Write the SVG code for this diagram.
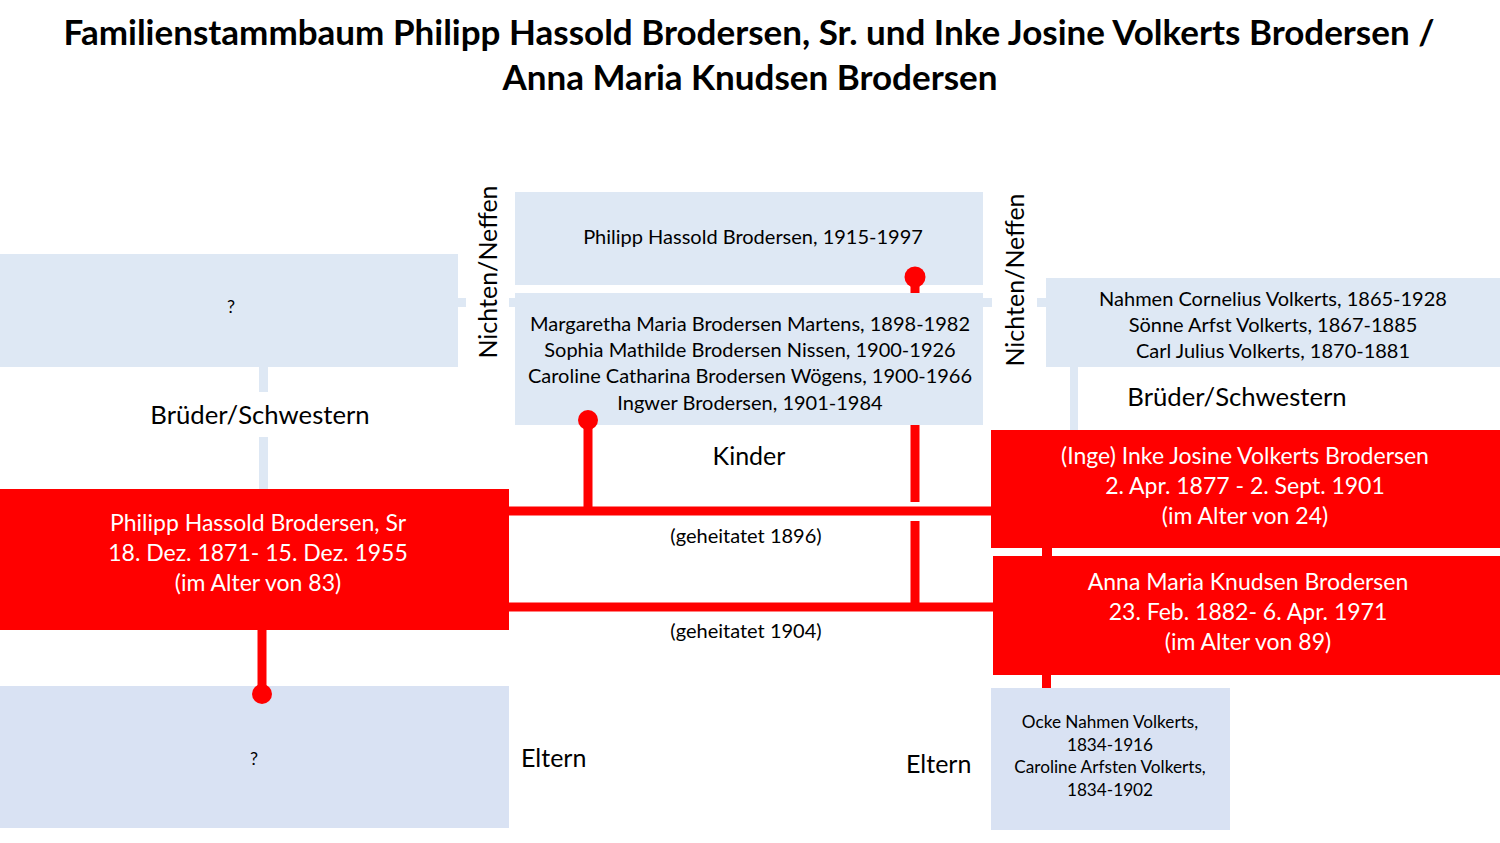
<svg xmlns="http://www.w3.org/2000/svg" width="1500" height="843" viewBox="0 0 1500 843">
<style>
text{font-family:Lato,"Open Sans","Liberation Sans",sans-serif;fill:#000}
.t{font-size:35px;font-weight:bold;text-anchor:middle}
.b{fill:#DEE8F4}
.b2{fill:#D9E2F3}
.r{fill:#FF0000}
.s{font-size:20px;text-anchor:middle}
.w{font-size:23px;text-anchor:middle;fill:#fff}
.l{font-size:25px}
.l2{font-size:25.7px;text-anchor:middle}
.m{font-size:18px;text-anchor:middle}
.g{font-size:20px;text-anchor:middle}
.p{font-size:17.2px;text-anchor:middle}
.lb{fill:#DEE8F4}
.rc{stroke:#FF0000;stroke-width:9;fill:none}
</style>
<rect width="1500" height="843" fill="#fff"/>
<g id="title">
<text class="t" x="749" y="45">Familienstammbaum Philipp Hassold Brodersen, Sr. und Inke Josine Volkerts Brodersen /</text>
<text class="t" x="750" y="90">Anna Maria Knudsen Brodersen</text>
</g>
<g id="node-sib-left">
<rect class="b" x="0" y="254" width="458" height="113"/>
<text class="m" x="231" y="313">?</text>
</g>
<g id="node-sib-right">
<rect class="b" x="1046" y="278" width="454" height="89"/>
<text class="s" x="1273" y="306">Nahmen Cornelius Volkerts, 1865-1928</text>
<text class="s" x="1273" y="332">Sönne Arfst Volkerts, 1867-1885</text>
<text class="s" x="1273" y="358">Carl Julius Volkerts, 1870-1881</text>
</g>
<g id="node-child-1915">
<rect class="b" x="515" y="192" width="468" height="93"/>
<text class="s" x="753" y="244">Philipp Hassold Brodersen, 1915-1997</text>
</g>
<g id="node-children">
<rect class="b" x="515" y="293" width="468" height="132"/>
<text class="s" x="750" y="331">Margaretha Maria Brodersen Martens, 1898-1982</text>
<text class="s" x="750" y="357">Sophia Mathilde Brodersen Nissen, 1900-1926</text>
<text class="s" x="750" y="383">Caroline Catharina Brodersen Wögens, 1900-1966</text>
<text class="s" x="750" y="410">Ingwer Brodersen, 1901-1984</text>
</g>
<g id="node-philipp">
<rect class="r" x="0" y="489" width="509" height="141"/>
<text class="w" x="258" y="531">Philipp Hassold Brodersen, Sr</text>
<text class="w" x="258" y="561">18. Dez. 1871- 15. Dez. 1955</text>
<text class="w" x="258" y="591">(im Alter von 83)</text>
</g>
<g id="node-inke">
<rect class="r" x="991" y="430" width="509" height="118"/>
<text class="w" x="1245" y="464">(Inge) Inke Josine Volkerts Brodersen</text>
<text class="w" x="1245" y="494">2. Apr. 1877 - 2. Sept. 1901</text>
<text class="w" x="1245" y="524">(im Alter von 24)</text>
</g>
<g id="node-anna">
<rect class="r" x="993" y="556" width="507" height="119"/>
<text class="w" x="1248" y="590">Anna Maria Knudsen Brodersen</text>
<text class="w" x="1248" y="620">23. Feb. 1882- 6. Apr. 1971</text>
<text class="w" x="1248" y="650">(im Alter von 89)</text>
</g>
<g id="node-parents-left">
<rect class="b2" x="0" y="686" width="509" height="142"/>
<text class="m" x="254" y="765">?</text>
</g>
<g id="node-parents-right">
<rect class="b2" x="991" y="688" width="239" height="142"/>
<text class="p" x="1110" y="728">Ocke Nahmen Volkerts,</text>
<text class="p" x="1110" y="751">1834-1916</text>
<text class="p" x="1110" y="773">Caroline Arfsten Volkerts,</text>
<text class="p" x="1110" y="796">1834-1902</text>
</g>
<g id="connectors">
<rect class="lb" x="458" y="298" width="8" height="9"/>
<rect class="lb" x="509" y="298" width="7" height="9"/>
<rect class="lb" x="983" y="298" width="9" height="9"/>
<rect class="lb" x="1037" y="298" width="9" height="9"/>
<rect class="lb" x="259" y="367" width="9" height="25"/>
<rect class="lb" x="259" y="437" width="9" height="52"/>
<rect class="lb" x="1070" y="367" width="8" height="63"/>
<line class="rc" x1="509" y1="511" x2="991" y2="511"/>
<line class="rc" x1="509" y1="607" x2="993" y2="607"/>
<line class="rc" x1="588" y1="420" x2="588" y2="511"/>
<circle class="r" cx="588" cy="420" r="10"/>
<line class="rc" x1="915" y1="277" x2="915" y2="293"/>
<circle class="r" cx="915" cy="277" r="10.5"/>
<line class="rc" x1="915" y1="425" x2="915" y2="502"/>
<line class="rc" x1="915" y1="521" x2="915" y2="607"/>
<line class="rc" x1="262" y1="630" x2="262" y2="694"/>
<circle class="r" cx="262" cy="694" r="10"/>
<rect class="r" x="1042" y="548" width="10" height="8"/>
<rect class="r" x="1042" y="675" width="9" height="13"/>
</g>
<g id="labels">
<text class="l" x="497" y="272" transform="rotate(-90 497 272)" text-anchor="middle">Nichten/Neffen</text>
<text class="l" x="1024" y="280" transform="rotate(-90 1024 280)" text-anchor="middle">Nichten/Neffen</text>
<text class="l2" x="260" y="424">Brüder/Schwestern</text>
<text class="l2" x="1237" y="406">Brüder/Schwestern</text>
<text class="l" x="749" y="465" text-anchor="middle">Kinder</text>
<text class="g" x="746" y="543">(geheitatet 1896)</text>
<text class="g" x="746" y="638">(geheitatet 1904)</text>
<text class="l" x="521" y="767">Eltern</text>
<text class="l" x="906" y="773">Eltern</text>
</g>
</svg>
